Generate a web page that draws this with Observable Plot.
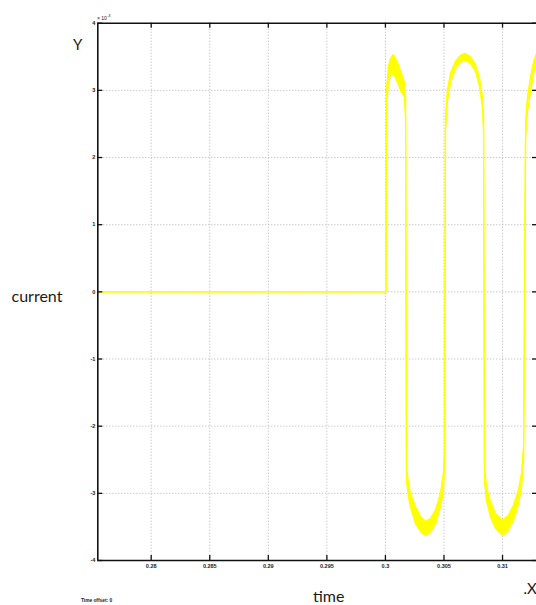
<!DOCTYPE html>
<html><head><meta charset="utf-8">
<script src="https://cdn.jsdelivr.net/npm/d3@7"></script>
<script src="https://cdn.jsdelivr.net/npm/@observablehq/plot@0.6"></script>
<style>
body{margin:0;background:#fff;}
#wrap{position:relative;width:536px;height:605px;overflow:hidden;}
.lab{position:absolute;white-space:nowrap;color:#1a1a1a;font-family:Lato,sans-serif;line-height:1;}
.tiny{position:absolute;white-space:nowrap;color:#222;font-family:"Liberation Sans",Arial,sans-serif;font-weight:bold;line-height:1;}
</style></head><body>
<div id="wrap">
  <div class="lab" style="left:73px;top:37px;font-size:15px;">Y</div>
  <div class="lab" style="left:11.5px;top:287.5px;font-size:16px;">current</div>
  <div class="lab" style="left:313px;top:588px;font-size:16px;">time</div>
  <div class="lab" style="left:523.5px;top:580.7px;font-size:15px;">.X</div>
  <div class="tiny" style="left:81px;top:598.5px;font-size:4.8px;">Time offset: 0</div>
  <div class="tiny" style="left:97px;top:14px;font-size:5px;font-weight:normal;">× 10<sup style="font-size:4px;vertical-align:3px;">-3</sup></div>
</div>
<script>
// time in seconds
const timeS = [0.2755, 0.3000, 0.30005, 0.30010, 0.30026, 0.30043, 0.30069, 0.30103, 0.30137, 0.30163, 0.30172,
  0.30180, 0.30197, 0.30214, 0.30257, 0.30300, 0.30343, 0.30385, 0.30428, 0.30471, 0.30496, 0.30505,
  0.30513, 0.30530, 0.30556, 0.30599, 0.30641, 0.30684, 0.30727, 0.30770, 0.30804, 0.30829, 0.30838,
  0.30846, 0.30863, 0.30897, 0.30940, 0.31000, 0.31051, 0.31094, 0.31137, 0.31163, 0.31180,
  0.31197, 0.31214, 0.31240, 0.31265, 0.31291];
// upper envelope of current (x 10^-3)
const upper = [0, 0, 0, 3.0, 3.35, 3.47, 3.53, 3.42, 3.25, 3.12, 2.9,
  -2.6, -2.85, -3.0, -3.2, -3.35, -3.42, -3.38, -3.25, -3.0, -2.7, -2.4,
  2.6, 3.0, 3.25, 3.43, 3.52, 3.55, 3.5, 3.38, 3.18, 2.9, 2.6,
  -2.6, -2.9, -3.12, -3.3, -3.4, -3.33, -3.18, -2.95, -2.7, -2.3,
  2.5, 2.9, 3.2, 3.42, 3.55];
// lower envelope of current (x 10^-3)
const lower = [0, 0, 0, 2.8, 3.1, 3.22, 3.25, 3.12, 2.97, 2.9, 2.6,
  -2.8, -3.05, -3.2, -3.45, -3.57, -3.63, -3.58, -3.45, -3.2, -2.95, -2.6,
  2.4, 2.85, 3.12, 3.32, 3.42, 3.45, 3.4, 3.28, 3.06, 2.75, 2.4,
  -2.8, -3.1, -3.35, -3.52, -3.63, -3.55, -3.4, -3.15, -2.9, -2.5,
  2.3, 2.7, 3.0, 3.25, 3.38];

const xTicks = [0.28, 0.285, 0.29, 0.295, 0.3, 0.305, 0.31];
const xTickLabels = ["0.28", "0.285", "0.29", "0.295", "0.3", "0.305", "0.31"];
const yTicks = [-4, -3, -2, -1, 0, 1, 2, 3, 4];
const yTickLabels = ["-4", "-3", "-2", "-1", "0", "1", "2", "3", "4"];
const xDomain = [0.27544, 0.3129];
const yDomain = [-4, 4];

const data = timeS.map((t, i) => ({t, hi: upper[i], lo: lower[i]}));

const W = 536, H = 605, mL = 97.3, mR = 0, mT = 22.7, mB = 45;
const plotW = W - mL - mR, plotH = H - mT - mB;
const gridColor = "#b4b4b4";
const yellow = "#ffff00";

const chart = Plot.plot({
  width: W, height: H,
  marginLeft: mL, marginRight: mR, marginTop: mT, marginBottom: mB,
  style: {background: "transparent", overflow: "visible"},
  x: {domain: xDomain, axis: null},
  y: {domain: yDomain, axis: null},
  marks: [
    Plot.ruleX(xTicks, {stroke: gridColor, strokeWidth: 1, strokeDasharray: "1,2"}),
    Plot.ruleY(yTicks.filter(v => Math.abs(v) < 4), {stroke: gridColor, strokeWidth: 1, strokeDasharray: "1,2"}),
    Plot.areaY(data, {x: "t", y1: "lo", y2: "hi", fill: yellow}),
    Plot.line(data, {x: "t", y: "hi", stroke: yellow, strokeWidth: 1.3}),
    Plot.line(data, {x: "t", y: "lo", stroke: yellow, strokeWidth: 1.3}),
    // frame
    Plot.ruleX([xDomain[0]], {stroke: "#111", strokeWidth: 1.6}),
    Plot.ruleY([yDomain[0], yDomain[1]], {stroke: "#111", strokeWidth: 1.6}),
    // inward ticks
    Plot.tickX(xTicks, {x: d => d, stroke: "#111", strokeWidth: 1.3, insetTop: plotH - 5}),
    Plot.tickX(xTicks, {x: d => d, stroke: "#111", strokeWidth: 1.3, insetBottom: plotH - 5}),
    Plot.tickY(yTicks, {y: d => d, stroke: "#111", strokeWidth: 1.3, insetRight: plotW - 5}),
    Plot.tickY(yTicks, {y: d => d, stroke: "#111", strokeWidth: 1.3, insetLeft: plotW - 4}),
    // tick labels
    Plot.text(xTicks, {x: d => d, frameAnchor: "bottom", dy: 7.5, text: (d, i) => xTickLabels[i],
      fontSize: 5.5, fontWeight: "bold", fontFamily: "Liberation Sans, Arial, sans-serif", fill: "#222"}),
    Plot.text(yTicks, {y: d => d, frameAnchor: "left", dx: -2.5, textAnchor: "end", text: (d, i) => yTickLabels[i],
      fontSize: 5.5, fontWeight: "bold", fontFamily: "Liberation Sans, Arial, sans-serif", fill: "#222"})
  ]
});
chart.style.position = "absolute";
chart.style.left = "0px";
chart.style.top = "0px";
const wrap = document.getElementById("wrap");
wrap.insertBefore(chart, wrap.firstChild);
</script>
</body></html>
